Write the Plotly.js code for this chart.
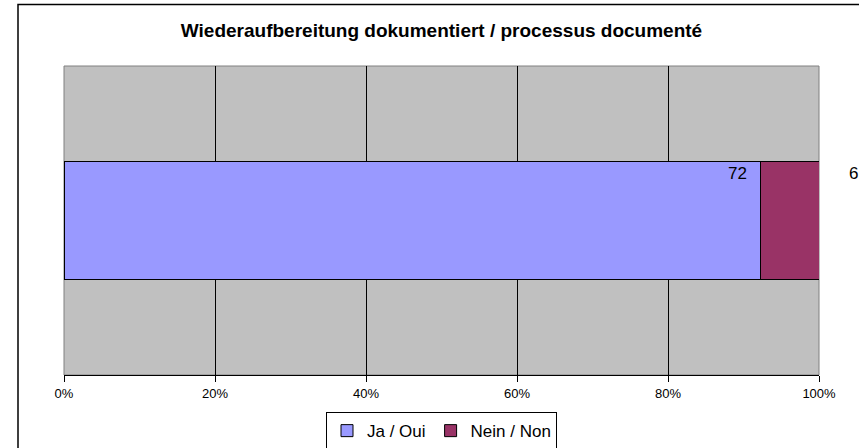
<!DOCTYPE html>
<html>
<head>
<meta charset="utf-8">
<script src="https://cdn.plot.ly/plotly-3.0.1.min.js"></script>
<style>html,body{margin:0;padding:0;background:#fff;}#chart{width:859px;height:448px;}</style>
</head>
<body>
<div id="chart"></div>
<script>
const categories = ["Wiederaufbereitung"];
const seriesNames = ["Ja / Oui", "Nein / Non"];
const jaValues = [72];
const neinValues = [6];
const tickValues = [0, 20, 40, 60, 80, 100];
const tickLabels = ["0%", "20%", "40%", "60%", "80%", "100%"];

const colors = ["#9999FF", "#993366"];
const allSeries = [jaValues, neinValues];

const traces = allSeries.map((vals, i) => ({
  type: "bar",
  orientation: "h",
  name: seriesNames[i],
  x: vals,
  y: categories,
  marker: {color: colors[i], line: {color: "#000000", width: 1}},
  hoverinfo: "name+x"
}));

// data labels placed from the normalised cumulative values
const totals = categories.map((c, k) => allSeries.reduce((s, v) => s + v[k], 0));
const labelShift = [-12, 34];
const labelAnchor = ["right", "center"];
const annotations = [];
categories.forEach((c, k) => {
  let cum = 0;
  allSeries.forEach((vals, i) => {
    cum += vals[k];
    annotations.push({
      x: cum / totals[k] * 100, y: c, xref: "x", yref: "y",
      text: String(vals[k]), showarrow: false,
      xanchor: labelAnchor[i], yanchor: "middle",
      xshift: labelShift[i], yshift: 47,
      font: {family: "Liberation Sans, Arial, sans-serif", size: 17, color: "#000"}
    });
  });
});

const layout = {
  width: 859, height: 448,
  margin: {l: 64, r: 40, t: 66, b: 73, autoexpand: false},
  paper_bgcolor: "#ffffff",
  plot_bgcolor: "#C0C0C0",
  barmode: "stack",
  barnorm: "percent",
  bargap: 0.62,
  font: {family: "Liberation Sans, Arial, sans-serif", color: "#000"},
  title: {
    text: "<b>Wiederaufbereitung dokumentiert / processus documenté</b>",
    x: 0.5, xref: "paper", xanchor: "center",
    y: 1 - 30 / 448, yref: "container", yanchor: "middle",
    font: {family: "Liberation Sans, Arial, sans-serif", size: 19, color: "#000"}
  },
  xaxis: {
    range: [0, 100],
    tickvals: tickValues, ticktext: tickLabels,
    ticks: "outside", ticklen: 6, tickcolor: "#000", tickwidth: 1,
    showline: true, linecolor: "#000", linewidth: 1,
    showgrid: true, gridcolor: "#000", gridwidth: 1,
    zeroline: false,
    tickfont: {size: 13, color: "#000"},
    fixedrange: true
  },
  yaxis: {
    range: [-0.5, 0.5],
    showticklabels: false, showgrid: false, zeroline: false,
    showline: false, ticks: "",
    fixedrange: true
  },
  showlegend: true,
  legend: {
    orientation: "h",
    x: 0.5, xanchor: "center",
    y: -0.12, yanchor: "top",
    bgcolor: "#fff", bordercolor: "#000", borderwidth: 1,
    font: {size: 17, color: "#000"},
    traceorder: "normal",
    itemwidth: 30
  },
  annotations: annotations,
  shapes: [
    {type: "rect", xref: "paper", yref: "paper",
     x0: (18 - 64) / 755, x1: 1.2, y0: -0.5, y1: (375 - 4.5) / 309,
     line: {color: "#000", width: 1.5}, fillcolor: "rgba(0,0,0,0)", layer: "below"},
    {type: "rect", xref: "paper", yref: "paper",
     x0: 0, x1: 1, y0: 0, y1: 1,
     line: {color: "#808080", width: 1}, fillcolor: "rgba(0,0,0,0)", layer: "below"}
  ]
};

Plotly.newPlot("chart", traces, layout, {displayModeBar: false, staticPlot: true});
</script>
</body>
</html>
